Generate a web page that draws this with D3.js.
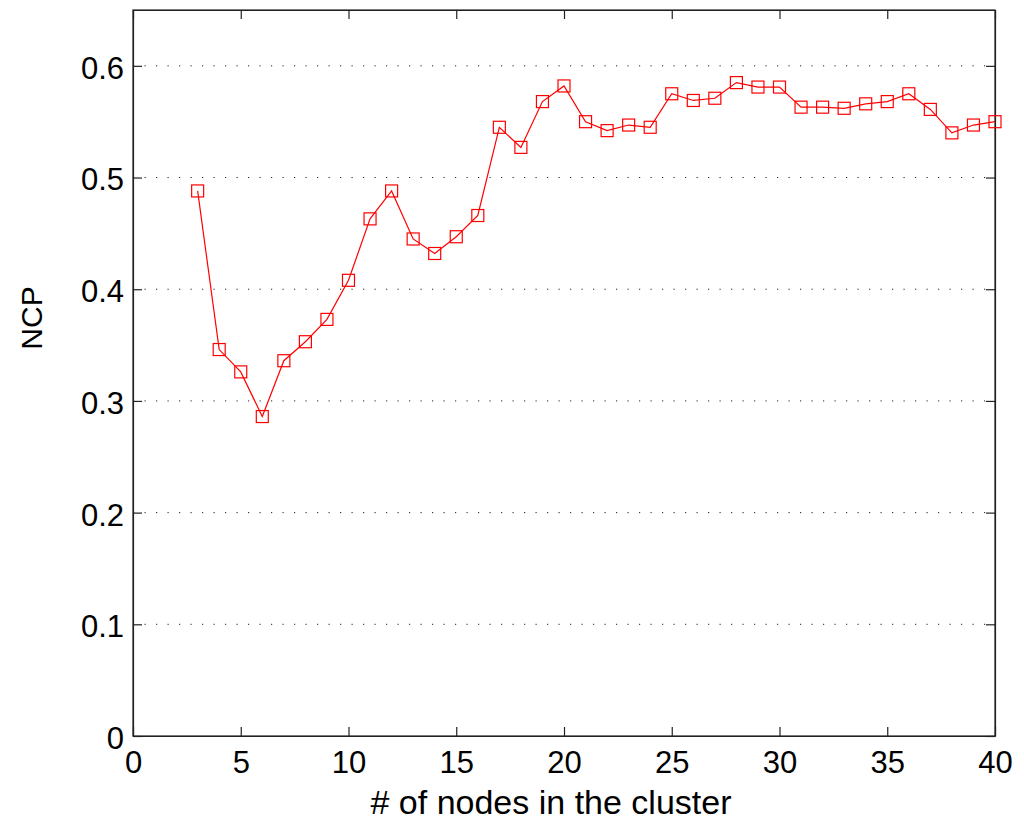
<!DOCTYPE html>
<html lang="en">
<head>
    <meta charset="UTF-8">
    <script src="https://d3js.org/d3.v7.min.js"></script>
    <title>NCP vs cluster size</title>
    <style>
        html, body {
            margin: 0px;
            padding: 0px;
            background-color: #ffffff;
            font-family: "Liberation Sans", Helvetica, Arial, sans-serif;
        }
    </style>
</head>
<body>
    <div id="chart"></div>
    <script>

        // cluster size and NCP values
        let nodes = [3, 4, 5, 6, 7, 8, 9, 10, 11, 12, 13, 14, 15, 16, 17, 18, 19, 20, 21,
            22, 23, 24, 25, 26, 27, 28, 29, 30, 31, 32, 33, 34, 35, 36, 37, 38, 39, 40];
        let ncp = [0.488, 0.346, 0.326, 0.286, 0.336, 0.353, 0.373, 0.408, 0.463, 0.488,
            0.445, 0.432, 0.447, 0.466, 0.545, 0.527, 0.568, 0.582, 0.550,
            0.542, 0.547, 0.545, 0.575, 0.569, 0.571, 0.585, 0.581, 0.581, 0.563, 0.563,
            0.562, 0.566, 0.568, 0.575, 0.561, 0.540, 0.547, 0.550];
        let xTicks = [0, 5, 10, 15, 20, 25, 30, 35, 40];
        let yTicks = [0, 0.1, 0.2, 0.3, 0.4, 0.5, 0.6];

        let width = 1024, height = 828;
        let margin = {top: 10, right: 29, bottom: 92, left: 133};

        let svg = d3.select('#chart').append('svg')
            .attr('width', width).attr('height', height);

        let x = d3.scaleLinear().domain([0, 40]).range([margin.left, width - margin.right]);
        let y = d3.scaleLinear().domain([0, 0.65]).range([height - margin.bottom, margin.top]);

        // dotted grid
        svg.append('g').selectAll('line')
            .data(yTicks.filter(d => d > 0))
            .join('line')
            .attr('x1', x(0)).attr('x2', x(40))
            .attr('y1', d => y(d)).attr('y2', d => y(d))
            .attr('stroke', '#222')
            .attr('stroke-width', 1)
            .attr('stroke-dasharray', '1.2,10.3');

        let tickLen = 9;

        let gx = svg.append('g')
            .attr('transform', `translate(0,${y(0)})`)
            .call(d3.axisBottom(x).tickValues(xTicks).tickFormat(d3.format('d'))
                .tickSizeInner(-tickLen).tickSizeOuter(0).tickPadding(15));
        let gxt = svg.append('g')
            .attr('transform', `translate(0,${y(0.65)})`)
            .call(d3.axisTop(x).tickValues(xTicks).tickFormat('')
                .tickSizeInner(-tickLen).tickSizeOuter(0));
        let gy = svg.append('g')
            .attr('transform', `translate(${x(0)},0)`)
            .call(d3.axisLeft(y).tickValues(yTicks).tickFormat(d => d === 0 ? '0' : d3.format('.1f')(d))
                .tickSizeInner(-tickLen).tickSizeOuter(0).tickPadding(9));
        let gyr = svg.append('g')
            .attr('transform', `translate(${x(40)},0)`)
            .call(d3.axisRight(y).tickValues(yTicks).tickFormat('')
                .tickSizeInner(-tickLen).tickSizeOuter(0));

        [gx, gxt, gy, gyr].forEach(g => {
            g.select('.domain').attr('stroke', '#222').attr('stroke-width', 1.2);
            g.selectAll('.tick line').attr('stroke', '#222').attr('stroke-width', 1.2);
            g.selectAll('.tick text')
                .attr('font-family', '"Liberation Sans", Helvetica, Arial, sans-serif')
                .attr('font-size', 31)
                .attr('fill', '#000');
        });
        gy.selectAll('.tick text').attr('dy', '0.4em');

        // full frame
        svg.append('rect')
            .attr('x', x(0)).attr('y', y(0.65))
            .attr('width', x(40) - x(0)).attr('height', y(0) - y(0.65))
            .attr('fill', 'none').attr('stroke', '#222').attr('stroke-width', 1.2);

        let pts = nodes.map((n, i) => [n, ncp[i]]);

        svg.append('path')
            .datum(pts)
            .attr('d', d3.line().x(d => x(d[0])).y(d => y(d[1])))
            .attr('fill', 'none')
            .attr('stroke', '#ff0000')
            .attr('stroke-width', 1.2);

        let sq = 12;
        svg.append('g').selectAll('rect')
            .data(pts)
            .join('rect')
            .attr('x', d => x(d[0]) - sq / 2)
            .attr('y', d => y(d[1]) - sq / 2)
            .attr('width', sq).attr('height', sq)
            .attr('fill', 'none')
            .attr('stroke', '#ff0000')
            .attr('stroke-width', 1.2);

        svg.append('text')
            .attr('x', (x(0) + x(40)) / 2 - 13)
            .attr('y', 814)
            .attr('text-anchor', 'middle')
            .attr('font-size', 34)
            .text('# of nodes in the cluster');

        svg.append('text')
            .attr('transform', `translate(42,318) rotate(-90)`)
            .attr('text-anchor', 'middle')
            .attr('font-size', 30)
            .text('NCP');

    </script>
</body>
</html>
